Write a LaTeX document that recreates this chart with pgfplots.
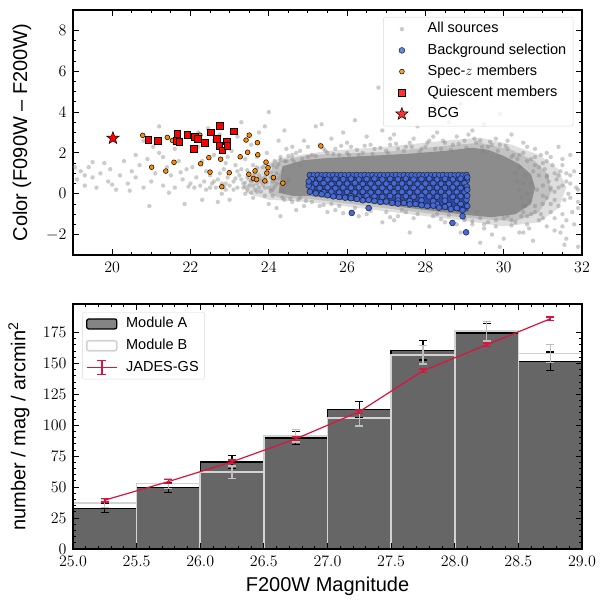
\RequirePackage{fix-cm}
\documentclass[border=0pt]{standalone}
\usepackage{fontspec}
\setmainfont{Liberation Sans}
\usepackage{pgfplots}
\pgfplotsset{compat=1.18}
\definecolor{bgblue}{RGB}{65,105,225}
\definecolor{bgfill}{RGB}{45,70,170}
\definecolor{specorange}{RGB}{255,140,0}
\definecolor{crimson}{RGB}{220,20,60}
\definecolor{modA}{RGB}{102,102,102}
\definecolor{modB}{RGB}{211,211,211}
\definecolor{coregray}{RGB}{140,140,140}
\definecolor{errB}{RGB}{190,190,190}

\pgfdeclareplotmark{fstar}{%
 \pgfpathmoveto{\pgfpointpolar{90}{\pgfplotmarksize}}%
 \pgfpathlineto{\pgfpointpolar{126}{0.42\pgfplotmarksize}}%
 \pgfpathlineto{\pgfpointpolar{162}{\pgfplotmarksize}}%
 \pgfpathlineto{\pgfpointpolar{198}{0.42\pgfplotmarksize}}%
 \pgfpathlineto{\pgfpointpolar{234}{\pgfplotmarksize}}%
 \pgfpathlineto{\pgfpointpolar{270}{0.42\pgfplotmarksize}}%
 \pgfpathlineto{\pgfpointpolar{306}{\pgfplotmarksize}}%
 \pgfpathlineto{\pgfpointpolar{342}{0.42\pgfplotmarksize}}%
 \pgfpathlineto{\pgfpointpolar{18}{\pgfplotmarksize}}%
 \pgfpathlineto{\pgfpointpolar{54}{0.42\pgfplotmarksize}}%
 \pgfpathclose
 \pgfusepathqfillstroke
}

\pgfplotsset{
  mystyle/.style={
    scale only axis, width=509pt, height=245pt,
    axis line style={line width=1.3pt},
    tick style={black, line width=0.9pt},
    major tick length=6pt, minor tick length=3.2pt,
    tick align=inside,
    xtick pos=both, ytick pos=both,
    tick label style={font=\fontsize{16}{16}\selectfont},
    xticklabel style={yshift=-3.5pt},
    yticklabel style={xshift=-3pt},
    legend cell align=left,
  },
  mklegend/.style={legend image code/.code={%
    \draw[mark repeat=2,mark phase=2,##1] plot coordinates {(0pt,0pt) (14pt,0pt) (28pt,0pt)};
    \path[draw=none, fill=none] (0pt,-0.5pt) rectangle (28pt,0.5pt);}},
}

\begin{document}
\begin{tikzpicture}
\path[use as bounding box] (-73pt,-52pt) rectangle (526pt,549pt);

% ---------------- top panel ----------------
\begin{axis}[mystyle, at={(0,294pt)},
  xmin=19, xmax=32, ymin=-3, ymax=9,
  xtick={20,22,24,26,28,30,32}, minor x tick num=3,
  ytick={-2,0,2,4,6,8}, minor y tick num=3,
  ylabel={Color (F090W – F200W)},
  every axis y label/.style={at={(rel axis cs:0,0.5)}, xshift=-51pt, rotate=90, anchor=center,
    font=\fontsize{20}{24}\selectfont},
  legend style={at={(rel axis cs:0.983,0.972)}, anchor=north east, draw=black!15, rounded corners=2pt,
    fill=white, fill opacity=0.8, text opacity=1, font=\fontsize{14.5}{17}\selectfont,
    row sep=2.9pt, inner xsep=4.5pt, inner ysep=3pt,
    nodes={inner sep=2.4pt, text height=10.5pt, text depth=3pt},
    /tikz/every odd column/.append style={column sep=9.3pt}},
]
% dense cloud of all sources (layers)
\addplot[forget plot, mark=none, fill=gray, fill opacity=0.25, draw=none] coordinates {
(23.4,0.05) (23.6,1.2) (24.3,1.75) (25.5,2.1) (27.0,2.3) (28.5,2.6) (29.4,2.75) (30.2,2.4) (30.9,1.9)
(31.4,1.2) (31.6,0.3) (31.4,-0.7) (30.9,-1.4) (30.0,-1.6) (29.1,-1.35) (25.0,-0.4) (24.0,-0.3)};
\addplot[forget plot, mark=none, fill=gray, fill opacity=0.3, draw=none] coordinates {
(24.0,0.0) (24.1,1.5) (25.0,1.9) (27.0,2.05) (28.5,2.35) (29.4,2.5) (30.2,2.15) (30.8,1.6) (31.15,0.9)
(31.2,0.0) (30.9,-0.9) (30.3,-1.35) (29.1,-1.2) (25.0,-0.25) (24.3,-0.2)};
\addplot[forget plot, mark=none, fill=coregray, draw=none] coordinates {
(24.25,0.05) (24.35,1.35) (24.9,1.65) (25.5,1.75) (26.5,1.85) (27.5,1.95) (28.5,2.1) (29.2,2.25)
(29.6,2.15) (30.0,1.85) (30.4,1.45) (30.7,0.95) (30.8,0.3) (30.7,-0.5) (30.3,-1.0) (29.7,-1.15)
(29.1,-1.05) (25.0,-0.1) (24.6,-0.1)};
% All sources
\addplot[only marks, mark=*, mark size=2.2pt, mklegend,
  mark options={draw=gray, fill=gray, draw opacity=0, fill opacity=0.4}] coordinates {
(19.1,0.7) (19.2,1.1) (19.3,0.4) (19.4,1.3) (19.5,0.8) (19.6,0.3) (19.7,1.0) (19.8,1.5) (19.9,0.6)
(19.95,1.2) (20.1,0.2) (20.2,0.9) (20.3,1.6) (20.4,0.5) (20.5,1.1) (20.6,0.8) (20.7,1.4) (20.8,0.3)
(20.9,1.7) (20.95,-0.6) (21.0,0.6) (21.1,1.0) (21.2,2.0) (21.3,0.4) (21.4,1.3) (21.5,0.9) (21.6,0.3)
(21.7,1.6) (21.8,0.7) (21.85,-0.5) (21.9,1.2) (21.95,0.35) (20.0,0.45) (19.5,1.55) (20.6,1.9)
(21.3,1.8) (21.6,2.2) (20.8,2.6) (21.2,3.3) (19.3,0.9) (19.05,1.3) (20.45,0.15) (21.45,0.05)
(21.75,1.05) (21.05,2.3)
(22.0,0.5) (22.05,1.3) (22.1,0.3) (22.15,0.8) (22.2,2.3) (22.25,0.4) (22.3,1.6) (22.35,0.6) (22.4,0.2)
(22.45,3.2) (22.5,0.9) (22.55,0.5) (22.6,1.9) (22.65,0.3) (22.7,0.7) (22.75,2.9) (22.8,0.5) (22.85,1.2)
(22.9,0.2) (22.95,0.8) (23.0,0.4) (23.05,2.1) (23.1,0.6) (23.15,1.4) (23.2,0.3) (23.25,0.9) (23.3,3.5)
(23.35,0.5) (23.4,1.7) (23.45,0.2) (23.5,0.7) (23.55,2.4) (23.6,0.4) (23.65,1.0) (23.7,0.1) (23.75,3.0)
(23.8,0.6) (23.85,1.3) (23.9,0.3) (23.95,2.0) (24.0,4.0) (24.05,0.8) (24.1,0.2) (24.15,1.6) (24.2,0.5)
(24.25,2.6) (24.3,-1.1) (24.35,1.1) (24.4,0.4) (24.45,2.2) (24.5,0.7) (22.3,-0.3) (22.7,-0.4)
(23.0,-0.3) (23.6,-0.2) (24.0,-0.5) (22.6,2.6) (22.2,3.0) (23.2,2.8) (23.9,3.3) (24.4,3.1) (22.9,1.5)
(23.7,1.8) (22.4,1.1) (23.3,1.2) (24.2,1.3) (22.8,0.0) (23.4,0.0) (24.1,-0.1) (22.5,0.3) (22.6,0.6)
(22.9,0.5) (23.1,0.2) (23.3,0.7) (23.5,0.4) (23.7,0.5) (23.9,0.8) (24.1,0.6) (24.3,0.9) (24.0,0.3)
(23.8,0.1) (23.4,0.55) (23.6,0.85) (23.75,0.3) (23.95,0.55) (24.15,0.35) (24.25,0.75) (24.35,0.15)
(23.15,0.75) (22.85,0.35) (23.55,0.05) (24.45,0.5) (24.05,1.05) (23.45,1.15) (22.75,1.0) (24.3,1.8)
(24.7,2.0) (24.9,2.6) (25.1,1.9) (25.2,3.3) (25.35,3.4) (25.4,2.2) (25.6,2.7) (25.8,1.9) (25.9,3.0)
(26.1,2.3) (26.2,3.6) (26.4,2.0) (26.5,2.8) (26.7,2.2) (26.8,5.2) (26.9,3.1) (27.1,2.4) (27.2,2.9)
(27.4,3.8) (27.5,2.3) (27.7,2.7) (27.8,3.3) (27.9,2.2) (28.1,2.6) (28.2,4.3) (28.3,3.0) (28.5,2.5)
(28.6,3.5) (28.8,2.8) (28.9,4.4) (29.0,2.6) (29.2,3.1) (29.3,2.5) (29.5,3.4) (29.6,2.3) (29.8,2.7)
(29.9,3.9) (30.1,2.2) (30.2,2.9) (30.4,1.9) (30.5,2.5) (30.7,1.7) (30.8,2.2) (31.0,1.5) (31.2,1.8)
(31.3,1.0) (31.5,1.4) (31.6,0.6) (31.8,1.1) (31.9,0.2) (31.4,0.3) (31.7,-0.2) (31.2,-0.5) (31.5,-1.0)
(31.8,-1.5) (31.6,-2.2) (31.9,-2.6) (31.3,-1.8) (31.0,-1.2) (30.8,-0.9) (30.6,-1.5) (30.4,-1.9)
(30.2,-1.3) (30.0,-2.2) (29.8,-1.6) (29.6,-1.4) (29.4,-2.4) (29.2,-1.5) (29.9,-2.6) (28.9,-1.9)
(28.5,-1.4) (28.1,-1.6) (27.7,-1.2) (27.3,-1.1) (26.9,-1.4) (26.5,-1.0) (26.1,-0.9) (25.7,-0.8)
(25.3,-0.6) (24.9,-0.6) (24.6,-0.4) (27.6,-1.9) (29.3,-0.9) (30.5,-0.6) (31.1,0.8) (30.9,1.3)
(30.3,1.0) (31.4,2.3) (31.7,1.9) (30.75,-2.3) (31.45,-1.9) (31.55,-2.5)
(24.4,1.6) (24.6,1.7) (24.8,1.4) (25.0,1.8) (26.0,2.0) (27.0,2.1) (28.0,2.3) (29.5,2.1) (30.2,1.8)
(30.8,1.4) (31.1,0.9) (31.2,0.2) (31.0,-0.5) (30.6,-1.1) (30.0,-1.2) (29.0,-1.3) (28.3,-1.0)
(27.5,-0.9) (26.6,-0.7) (25.6,-0.5) (24.4,-0.3) (24.3,0.5) (24.2,1.0) (25.5,2.0) (26.3,1.9)
(27.3,2.2) (28.7,2.4) (29.7,2.4) (30.5,2.0) (29.4,-1.2) (30.3,-1.4) (31.3,-0.3)
(25.3,2.4) (25.7,2.2) (26.0,2.5) (26.6,2.4) (27.1,2.7) (27.6,2.5) (28.2,2.8) (28.4,2.2) (29.1,2.9)
(29.4,2.6) (29.9,2.4) (30.1,2.6) (30.6,2.3) (31.1,2.0) (31.5,1.7) (31.7,0.9) (31.9,-0.7) (31.6,-1.3)
(31.1,-1.6) (30.5,-1.9) (29.7,-2.0) (29.5,-1.7) (28.8,-1.5) (27.2,-1.3) (26.3,-1.1) (25.5,-0.9)
(24.7,-0.8) (24.2,-0.7) (23.9,1.5) (23.6,1.4) (23.2,1.1) (22.95,1.8) (24.6,2.3) (24.8,-0.2)
(30.35,1.7) (30.45,-1.1) (30.55,0.9) (30.6,1.6) (30.65,-0.3) (30.7,0.5) (30.75,1.1) (30.8,-0.6)
(30.85,0.2) (30.9,0.9) (30.95,-1.0) (31.0,0.4) (31.05,1.2) (31.1,-0.2) (31.15,0.6) (31.2,-0.9)
(31.25,1.4) (31.3,0.1) (31.35,0.7) (31.4,-0.6) (31.45,1.1) (31.5,0.4) (31.55,-0.3) (31.6,1.0)
(31.65,0.0) (31.7,0.5) (31.75,-0.9) (31.85,0.3) (31.9,-0.4) (30.6,0.0) (30.7,-1.0) (30.8,1.8)
(30.9,-1.3) (31.0,-0.1) (31.1,1.6) (31.2,0.3) (31.3,-1.2) (31.4,0.9) (31.5,-1.6) (30.5,-0.9)
(30.4,1.3) (30.65,-1.7) (30.95,1.9) (30.35,0.6) (30.45,-0.2) (30.4,0.2) (30.5,0.5) (30.55,-0.6)
(24.6,1.9) (24.8,2.1) (25.0,2.3) (25.2,1.85) (25.45,2.1) (25.65,1.95) (25.85,2.35) (26.05,1.9)
(26.25,2.15) (26.45,2.35) (26.65,1.95) (26.85,2.25) (27.05,2.0) (27.25,2.45) (27.45,2.1) (27.65,2.3)
(27.85,2.05) (28.05,2.5) (28.25,2.2) (28.45,2.6) (28.65,2.15) (28.85,2.45) (29.05,2.25) (29.25,2.7)
(29.45,2.3) (29.65,2.55) (29.85,2.1) (30.05,2.35) (30.25,1.9)
(23.35,0.3) (23.45,0.8) (23.55,0.6) (23.65,0.2) (23.75,0.9) (23.85,0.45) (23.95,1.1) (24.05,0.15)
(24.15,0.7) (24.25,1.45) (24.35,-0.2) (24.45,1.6) (24.55,-0.25) (24.65,1.55) (24.75,-0.3) (24.85,1.7)
(24.95,-0.35) (23.5,1.0) (23.7,1.3) (23.9,-0.1) (24.1,1.4) (24.3,1.65) (24.5,1.85) (23.4,0.35)
(23.6,0.65) (23.8,0.75)
(25.1,-0.4) (25.4,-0.55) (25.8,-0.6) (26.2,-0.7) (26.6,-0.85) (27.0,-0.9) (27.4,-0.8) (27.8,-1.0)
(28.2,-1.1) (28.6,-1.05) (29.0,-1.2) (29.2,-1.35) (29.5,-1.5) (29.8,-1.3) (30.1,-1.1) (30.2,-1.55)
(28.4,-1.25) (27.1,-1.15) (25.9,-0.95)};
\addlegendentry{All sources}
% Background selection (dense block)
\addplot[forget plot, mark=none, fill=bgfill, draw=none] coordinates {
(25.0,0.95) (29.1,0.95) (29.1,-0.85) (28.9,-0.9) (28.7,-0.82) (28.5,-0.78) (28.3,-0.74) (28.1,-0.7)
(27.9,-0.66) (27.7,-0.62) (27.5,-0.58) (27.3,-0.56) (27.1,-0.52) (26.9,-0.48) (26.7,-0.44)
(26.5,-0.4) (26.3,-0.36) (26.1,-0.32) (25.9,-0.27) (25.7,-0.22) (25.5,-0.16) (25.3,-0.08) (25.0,0.02)};
\addplot[only marks, mark=*, mark size=2.9pt, mklegend,
  mark options={fill=bgblue, draw=black!85, line width=0.55pt}] coordinates {
(25.05,0.92) (25.15,0.9) (25.25,0.92) (25.35,0.9) (25.45,0.92) (25.55,0.9) (25.65,0.92) (25.75,0.9)
(25.85,0.92) (25.95,0.9) (26.05,0.92) (26.15,0.9) (26.25,0.92) (26.35,0.9) (26.45,0.92) (26.55,0.9)
(26.65,0.92) (26.75,0.9) (26.85,0.92) (26.95,0.9) (27.05,0.92) (27.15,0.9) (27.25,0.92) (27.35,0.9)
(27.45,0.92) (27.55,0.9) (27.65,0.92) (27.75,0.9) (27.85,0.92) (27.95,0.9) (28.05,0.92) (28.15,0.9)
(28.25,0.92) (28.35,0.9) (28.45,0.92) (28.55,0.9) (28.65,0.92) (28.75,0.9) (28.85,0.92) (28.95,0.9)
(29.05,0.92)
(25.1,0.72) (25.3,0.74) (25.5,0.7) (25.7,0.73) (25.9,0.71) (26.1,0.74) (26.3,0.7) (26.5,0.72)
(26.7,0.74) (26.9,0.7) (27.1,0.73) (27.3,0.71) (27.5,0.74) (27.7,0.7) (27.9,0.72) (28.1,0.74)
(28.3,0.7) (28.5,0.73) (28.7,0.71) (28.9,0.74) (29.06,0.66)
(25.2,0.5) (25.4,0.52) (25.6,0.48) (25.8,0.51) (26.0,0.5) (26.2,0.53) (26.4,0.48) (26.6,0.5)
(26.8,0.52) (27.0,0.49) (27.2,0.51) (27.4,0.5) (27.6,0.53) (27.8,0.48) (28.0,0.5) (28.2,0.52)
(28.4,0.49) (28.6,0.51) (28.8,0.5) (29.0,0.52)
(25.1,0.3) (25.3,0.28) (25.5,0.31) (25.7,0.27) (25.9,0.3) (26.1,0.29) (26.3,0.31) (26.5,0.28)
(26.7,0.3) (26.9,0.29) (27.1,0.31) (27.3,0.28) (27.5,0.3) (27.7,0.29) (27.9,0.31) (28.1,0.28)
(28.3,0.3) (28.5,0.29) (28.7,0.31) (28.9,0.28) (29.06,0.35)
(25.4,0.08) (25.6,0.1) (25.8,0.06) (26.0,0.09) (26.2,0.07) (26.4,0.1) (26.6,0.06) (26.8,0.08)
(27.0,0.1) (27.2,0.07) (27.4,0.09) (27.6,0.06) (27.8,0.1) (28.0,0.08) (28.2,0.07) (28.4,0.1)
(28.6,0.06) (28.8,0.09) (29.0,0.08)
(26.1,-0.12) (26.3,-0.14) (26.5,-0.1) (26.7,-0.13) (26.9,-0.15) (27.1,-0.11) (27.3,-0.14)
(27.5,-0.12) (27.7,-0.15) (27.9,-0.1) (28.1,-0.13) (28.3,-0.14) (28.5,-0.11) (28.7,-0.15) (28.9,-0.12)
(27.3,-0.33) (27.6,-0.35) (27.9,-0.32) (28.2,-0.36) (28.5,-0.34) (28.8,-0.35) (29.05,-0.3)
(28.3,-0.52) (28.6,-0.55) (28.9,-0.5)
(25.05,0.1) (25.2,0.02) (25.35,-0.02) (25.5,-0.07) (25.65,-0.13) (25.8,-0.16) (25.95,-0.19)
(26.12,-0.94) (26.1,-0.22) (26.25,-0.26) (26.4,-0.32) (26.55,-0.3) (26.55,-0.7) (26.7,-0.35)
(26.85,-0.4) (27.0,-0.38) (27.15,-0.45) (27.3,-0.48) (27.45,-0.45) (27.6,-0.52) (27.75,-0.5)
(27.9,-0.56) (28.05,-0.6) (28.2,-0.58) (28.35,-0.68) (28.5,-0.64) (28.65,-0.75) (28.69,-1.43)
(28.8,-0.7) (28.95,-0.8) (28.95,-1.1) (29.04,-1.89) (29.07,-0.6)
(25.02,0.4) (25.02,0.6) (29.07,-0.1) (29.07,0.2) (29.07,0.8)};
\addlegendentry{Background selection}
% Spec-z members
\addplot[only marks, mark=*, mark size=2.4pt, mklegend,
  mark options={fill=specorange, draw=black, line width=0.5pt}] coordinates {
(20.78,2.86) (21.01,1.30) (21.37,1.11) (21.41,2.76) (21.54,2.61) (21.58,1.54) (22.24,2.87) (22.26,1.47)
(22.47,1.77) (22.50,1.06) (22.77,1.69) (22.80,0.34) (22.99,1.03) (23.27,1.81) (23.42,2.63) (23.50,2.87)
(23.46,2.03) (23.49,0.95) (23.65,1.12) (23.61,0.75) (23.69,0.70) (23.71,2.50) (23.72,1.91) (23.90,0.63)
(23.93,1.55) (23.98,1.28) (23.95,1.01) (24.12,0.79) (24.36,0.52) (25.33,2.34)};
\addlegendentry{Spec-$z$ members}
% Quiescent members
\addplot[only marks, mark=square*, mark size=3.3pt, mklegend,
  mark options={fill=red, draw=black, line width=0.5pt}] coordinates {
(20.92,2.65) (21.16,2.59) (21.66,2.95) (21.65,2.59) (21.71,2.54) (21.92,2.89) (22.11,2.79) (22.19,2.69)
(22.09,2.20) (22.37,2.51) (22.52,3.02) (22.67,2.69) (22.75,3.32) (22.74,2.35) (22.81,2.13) (22.93,2.57)
(22.94,2.36) (23.11,3.06)};
\addlegendentry{Quiescent members}
% BCG
\addplot[only marks, mark=fstar, mark size=6.5pt, mklegend,
  mark options={fill=red, draw=black, line width=0.5pt}] coordinates {(20.02,2.72)};
\addlegendentry{BCG}
\end{axis}

% ---------------- bottom panel ----------------
\begin{axis}[mystyle, at={(0,0)}, axis on top,
  xmin=25, xmax=29, ymin=0, ymax=198,
  xtick={25,25.5,26,26.5,27,27.5,28,28.5,29}, minor x tick num=4,
  ytick={0,25,50,75,100,125,150,175}, minor y tick num=4,
  xticklabel style={/pgf/number format/.cd, fixed, fixed zerofill, precision=1},
  xlabel={F200W Magnitude},
  ylabel={number / mag / arcmin\textsuperscript{2}},
  every axis y label/.style={at={(rel axis cs:0,0.5)}, xshift=-54pt, rotate=90, anchor=center,
    font=\fontsize{20}{24}\selectfont},
  every axis x label/.style={at={(rel axis cs:0.5,0)}, yshift=-37pt, anchor=center,
    font=\fontsize{20}{24}\selectfont},
  legend style={at={(rel axis cs:0.018,0.967)}, anchor=north west, draw=black!15, rounded corners=2pt,
    fill=white, fill opacity=0.8, text opacity=1, font=\fontsize{14.5}{17}\selectfont,
    row sep=3.5pt, inner xsep=3.6pt, inner ysep=2.5pt,
    nodes={inner sep=2.4pt, text height=10.5pt, text depth=3pt},
    /tikz/every odd column/.append style={column sep=6.2pt}},
]
\addplot[ybar interval, fill=modA, draw=black, line width=1.3pt,
  legend image code/.code={\draw[fill=modA, draw=black, line width=1.3pt] (0pt,-5pt) rectangle (30pt,5pt);}]
  coordinates {(25,33) (25.5,49.7) (26,70.3) (26.5,89.7) (27,112.6) (27.5,160.7) (28,174.5) (28.5,151.8) (29,151.8)};
\addlegendentry{Module A}
\addplot[ybar interval, fill=none, draw=modB, line width=1.6pt,
  legend image code/.code={\draw[fill=none, draw=modB, line width=1.6pt] (0pt,-5pt) rectangle (30pt,5pt);}]
  coordinates {(25,37) (25.5,53) (26,62) (26.5,91.5) (27,106) (27.5,157) (28,176) (28.5,158) (29,158)};
\addlegendentry{Module B}
\addplot[forget plot, draw=none, mark=none, error bars/.cd, y dir=both, y explicit,
  error bar style={line width=1.3pt, draw=black}, error mark options={draw=black, line width=1.3pt, mark size=4pt, rotate=90}]
  coordinates {(25.25,33) +- (0,3.5) (25.75,49.7) +- (0,4) (26.25,70.3) +- (0,5.5) (26.75,89.7) +- (0,5.5)
  (27.25,112.6) +- (0,6.5) (27.75,160.7) +- (0,8) (28.25,174.5) +- (0,7.5) (28.75,151.8) +- (0,7.5)};
\addplot[forget plot, draw=none, mark=none, error bars/.cd, y dir=both, y explicit,
  error bar style={line width=1.3pt, draw=errB}, error mark options={draw=errB, line width=1.3pt, mark size=4pt, rotate=90}]
  coordinates {(25.25,37) +- (0,3.5) (25.75,53) +- (0,4) (26.25,62) +- (0,5) (26.75,91.5) +- (0,5)
  (27.25,106) +- (0,6.5) (27.75,157) +- (0,7.5) (28.25,176) +- (0,8) (28.75,158) +- (0,7.5)};
\addplot[crimson, line width=1.2pt, mark=none,
  legend image code/.code={
    \draw[crimson, line width=1.2pt] (0pt,0pt) -- (30pt,0pt);
    \draw[crimson, line width=1.5pt] (15pt,-7pt) -- (15pt,7pt);
    \draw[crimson, line width=1.5pt] (10.5pt,-7pt) -- (19.5pt,-7pt);
    \draw[crimson, line width=1.5pt] (10.5pt,7pt) -- (19.5pt,7pt);},
  error bars/.cd, y dir=both, y explicit,
  error bar style={line width=1.5pt, draw=crimson}, error mark options={draw=crimson, line width=1.5pt, mark size=4pt, rotate=90}]
  coordinates {(25.25,39.5) +- (0,1.5) (25.75,54.5) +- (0,1.5) (26.25,70.5) +- (0,1.5) (26.75,89) +- (0,1.5)
  (27.25,111) +- (0,1.5) (27.75,144) +- (0,1.5) (28.25,165) +- (0,1.5) (28.75,186) +- (0,1.5)};
\addlegendentry{JADES-GS}
\end{axis}
\end{tikzpicture}
\end{document}
